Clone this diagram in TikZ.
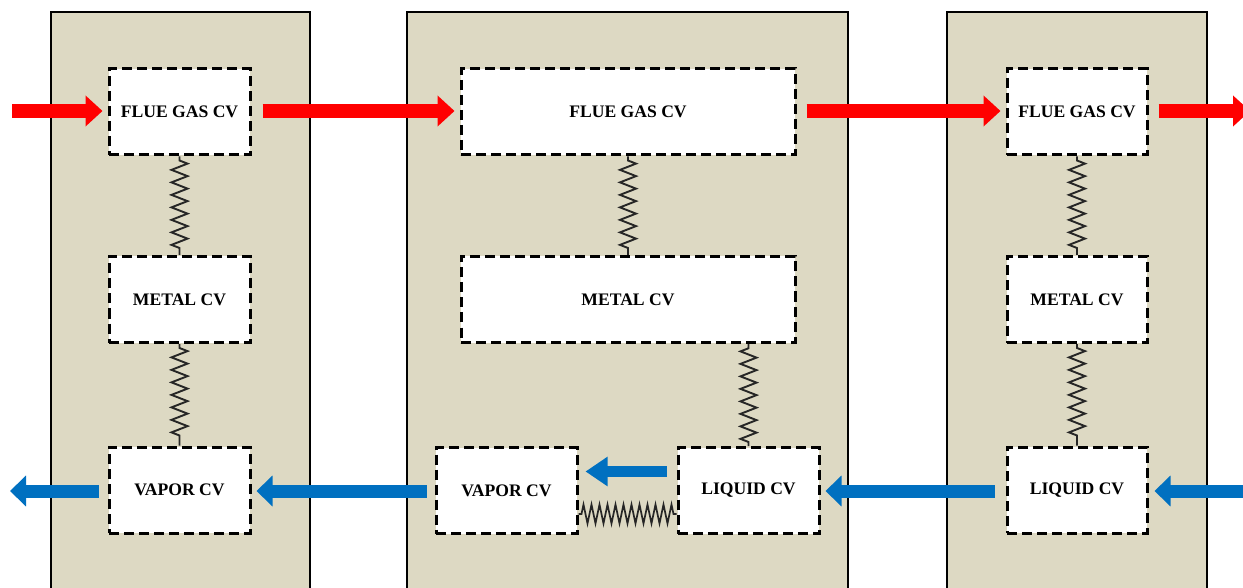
\documentclass[tikz,border=0pt]{standalone}
\usepackage{fontspec}
\setmainfont{Liberation Serif}
\usetikzlibrary{arrows.meta,decorations.pathmorphing,calc}
\definecolor{panelbg}{HTML}{DDD9C3}
\definecolor{flowred}{HTML}{FF0000}
\definecolor{flowblue}{HTML}{0070C0}
\tikzset{
  panel/.style={draw=black,line width=2.5pt,fill=panelbg},
  cv/.style={draw=black,fill=white,line width=3pt,dash pattern=on 10pt off 5pt,
    minimum height=86pt,inner sep=0pt,font=\fontsize{17.6}{20}\selectfont\bfseries},
  cvs/.style={cv,minimum width=141pt},
  cvw/.style={cv,minimum width=334pt},
  redflow/.style={draw=flowred,line width=14pt,-{Triangle[width=30pt,length=17pt]},shorten >=5pt},
  blueflow/.style={draw=flowblue,line width=13pt,-{Triangle[width=30pt,length=16pt]},shorten >=5pt},
  spring/.style={draw=black!85,line width=1.9pt,line join=miter,decorate,
    decoration={zigzag,segment length=12.5pt,amplitude=8pt,pre length=4pt,post length=4pt}},
  hspring/.style={draw=black!85,line width=1.7pt,decorate,
    decoration={zigzag,segment length=8pt,amplitude=9.5pt,pre length=3pt,post length=3pt}},
}
\begin{document}
\begin{tikzpicture}[x=1pt,y=-1pt]
\useasboundingbox (0,0) rectangle (1243,588);
\clip (0,0) rectangle (1243,588);
\fill[white] (0,0) rectangle (1243,588);
% panels
\path[panel] (51,12) rectangle (310,600);
\path[panel] (407,12) rectangle (848,600);
\path[panel] (947,12) rectangle (1207,600);
% left panel
\node[cvs] (fg1) at (179.5,112) {FLUE GAS CV};
\node[cvs] (mt1) at (179.5,299.5) {METAL CV};
\node[cvs] (vp1) at (179.5,490) {VAPOR CV};
% middle panel
\node[cvw] (fg2) at (628,112) {FLUE GAS CV};
\node[cvw] (mt2) at (628,299.5) {METAL CV};
\node[cvs] (vp2) at (506.5,490.5) {VAPOR CV};
\node[cvs] (lq2) at (748.5,490.5) {LIQUID CV};
% right panel
\node[cvs,minimum width=140pt] (fg3) at (1077,112) {FLUE GAS CV};
\node[cvs,minimum width=140pt] (mt3) at (1077,299.5) {METAL CV};
\node[cvs,minimum width=140pt] (lq3) at (1077,490) {LIQUID CV};
% springs
\draw[spring] (fg1.south) -- (mt1.north);
\draw[spring] (mt1.south) -- (vp1.north);
\draw[spring] (fg2.south) -- (mt2.north);
\draw[spring] (lq2.north) -- (lq2.north |- mt2.south);
\draw[spring] (fg3.south) -- (mt3.north);
\draw[spring] (mt3.south) -- (lq3.north);
\draw[hspring] ($(vp2.south east)+(0,-21)$) -- ($(lq2.south west)+(0,-21)$);
% free ends
\coordinate (redin) at (12,111);
\coordinate (redout) at (1250,111);
\coordinate (bluein) at (1300,491);
\coordinate (blueout) at (10,491);
% red flue gas arrows
\draw[redflow] (redin) -- (fg1.west |- redin);
\draw[redflow] ($(fg1.east |- redin)+(11,0)$) -- (fg2.west |- redin);
\draw[redflow] ($(fg2.east |- redin)+(10,0)$) -- (fg3.west |- redin);
\draw[redflow,shorten >=0pt] ($(fg3.east |- redin)+(10,0)$) -- (redout);
% blue water/steam arrows
\draw[blueflow,shorten >=0pt] (bluein) -- ($(lq3.east |- bluein)+(6,0)$);
\draw[blueflow] ($(lq3.west |- bluein)+(-11,0)$) -- (lq2.east |- bluein);
\draw[blueflow] ($(vp2.west |- bluein)+(-8,0)$) -- (vp1.east |- bluein);
\draw[blueflow,shorten >=0pt] ($(vp1.west |- bluein)+(-9,0)$) -- (blueout);
\draw[blueflow,line width=11pt,-{Triangle[width=28pt,length=22pt]},shorten >=7pt]
  ($(lq2.west)+(-10,-19)$) -- ($(vp2.east)+(0,-19)$);
\end{tikzpicture}
\end{document}
